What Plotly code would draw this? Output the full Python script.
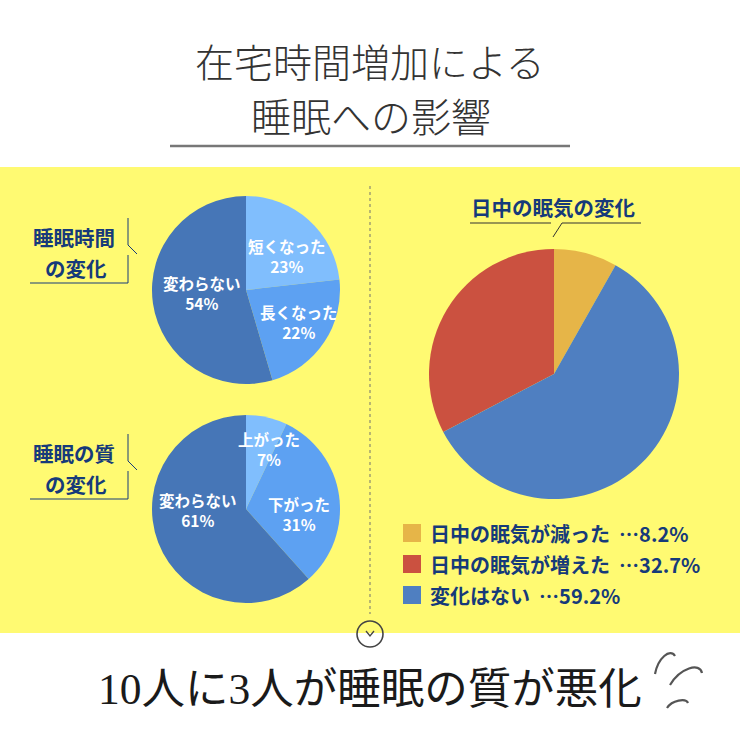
import plotly.graph_objects as go

W, H = 740, 740

# データ
title_lines = ["在宅時間増加による", "睡眠への影響"]
footer_text = "10人に3人が睡眠の質が悪化"

time_labels = ["短くなった", "長くなった", "変わらない"]
time_values = [23, 22, 54]
time_title = ["睡眠時間", "の変化"]

quality_labels = ["上がった", "下がった", "変わらない"]
quality_values = [7, 31, 61]
quality_title = ["睡眠の質", "の変化"]

sleepy_labels = ["日中の眠気が減った", "日中の眠気が増えた", "変化はない"]
sleepy_values = [8.2, 32.7, 59.2]
sleepy_title = "日中の眠気の変化"

left_colors = ["#80BEFD", "#5DA1F2", "#4676B7"]
right_colors = ["#E6B548", "#CB5140", "#4F7FC1"]

NAVY = "#163A7A"
JP = "Noto Sans CJK JP"
SERIF = "Liberation Serif, Noto Sans CJK JP"


def px(x):
    return x / W


def py(y):
    return 1 - y / H


def dom(cx, cy, r):
    return dict(x=[px(cx - r), px(cx + r)], y=[py(cy + r), py(cy - r)])


fig = go.Figure()

fig.add_trace(go.Pie(labels=time_labels, values=time_values, sort=False,
                     direction="clockwise", marker=dict(colors=left_colors, line=dict(width=0)),
                     textinfo="none", hoverinfo="label+value", showlegend=False,
                     domain=dom(246, 290, 94)))
fig.add_trace(go.Pie(labels=quality_labels, values=quality_values, sort=False,
                     direction="clockwise", marker=dict(colors=left_colors, line=dict(width=0)),
                     textinfo="none", hoverinfo="label+value", showlegend=False,
                     domain=dom(246, 509, 94)))
fig.add_trace(go.Pie(labels=sleepy_labels, values=sleepy_values, sort=False,
                     direction="counterclockwise", marker=dict(colors=right_colors, line=dict(width=0)),
                     textinfo="none", hoverinfo="label+value", showlegend=False,
                     domain=dom(554, 374, 125)))

shapes = []
ann = []


def line(x0, y0, x1, y1, color, width=1.2, dash=None):
    shapes.append(dict(type="line", xref="paper", yref="paper",
                       x0=px(x0), y0=py(y0), x1=px(x1), y1=py(y1),
                       line=dict(color=color, width=width, dash=dash)))


def text(x, y, s, size, color, family=JP, weight=None, xanchor="center"):
    f = dict(size=size, color=color, family=family)
    if weight:
        f["weight"] = weight
    ann.append(dict(x=px(x), y=py(y), xref="paper", yref="paper", text=s,
                    showarrow=False, font=f, xanchor=xanchor, yanchor="middle"))


# 黄色の帯
shapes.append(dict(type="rect", xref="paper", yref="paper", layer="below",
                   x0=0, x1=1, y0=py(633), y1=py(167),
                   fillcolor="#FFFA72", line=dict(width=0)))

# タイトル
text(370, 60, title_lines[0], 39, "#333333", weight=300)
text(371, 115, title_lines[1], 40, "#333333", weight=300)
line(170, 146, 570, 146, "#777777", 2.5)

# 区切り線
line(370, 186, 370, 614, "#8a8a70", 1.2, "dot")

# 左の見出しと吹き出し線
for (t1, t2), y0 in [(time_title, 237), (quality_title, 453)]:
    text(74, y0, t1, 20.5, NAVY, weight="bold")
    text(76, y0 + 31, t2, 20.5, NAVY, weight="bold")
    line(128, y0 - 19, 128, y0 + 8, NAVY, 1)
    line(128, y0 + 8, 137, y0 + 17, NAVY, 1)
    line(128, y0 + 18, 128, y0 + 46, NAVY, 1)
    line(30, y0 + 46, 128, y0 + 46, NAVY, 1)

# 左の円グラフのラベル
time_pos = [(287, 256), (299, 322), (202, 293)]
for lab, v, (x, y) in zip(time_labels, time_values, time_pos):
    text(x, y, f"{lab}<br>{v}%", 15.5, "white", weight="bold")

quality_pos = [(269, 449), (299, 514), (198, 510)]
for lab, v, (x, y) in zip(quality_labels, quality_values, quality_pos):
    text(x, y, f"{lab}<br>{v}%", 15.5, "white", weight="bold")

# 右の見出し
text(553, 207, sleepy_title, 20.5, NAVY, weight="bold")
line(470, 223, 551, 223, "#333333", 1)
line(562, 223, 641, 223, "#333333", 1)
line(562, 223, 553, 237, "#333333", 1)

# 凡例
for i, (lab, v, c) in enumerate(zip(sleepy_labels, sleepy_values, right_colors)):
    yc = 533 + i * 31
    shapes.append(dict(type="rect", xref="paper", yref="paper",
                       x0=px(403), x1=px(421), y0=py(yc + 9), y1=py(yc - 9),
                       fillcolor=c, line=dict(width=0)))
    text(428, yc, f"{lab}&nbsp; …{v}%", 20, NAVY, weight="bold", xanchor="left")

# 下向きの丸
shapes.append(dict(type="circle", xref="paper", yref="paper",
                   x0=px(357), x1=px(383), y0=py(647), y1=py(621),
                   line=dict(color="#444444", width=1.6)))
shapes.append(dict(type="path", xref="paper", yref="paper",
                   path=f"M {px(366)},{py(631)} L {px(370)},{py(636)} L {px(374)},{py(631)}",
                   line=dict(color="#444444", width=1.3)))

# まとめ
text(370, 689, footer_text, 43.5, "#1a1a1a", family=SERIF)

# 飾りの線
for pts in [
    [(655, 674), (658, 658), (670, 648), (675, 656)],
    [(670, 685), (680, 668), (700, 662), (702, 673)],
    [(667, 708), (672, 700), (686, 698), (688, 703)],
]:
    (a, b), (c1, d1), (c2, d2), (e, f) = pts
    shapes.append(dict(type="path", xref="paper", yref="paper",
                       path=f"M {px(a)},{py(b)} C {px(c1)},{py(d1)} {px(c2)},{py(d2)} {px(e)},{py(f)}",
                       line=dict(color="#555555", width=2.2)))

fig.update_layout(width=W, height=H, margin=dict(l=0, r=0, t=0, b=0),
                  paper_bgcolor="white", plot_bgcolor="white",
                  shapes=shapes, annotations=ann)

# ページの余白をなくす
fig.write_html("out.html", config={"displayModeBar": False},
               post_script="document.body.style.margin='0';")
